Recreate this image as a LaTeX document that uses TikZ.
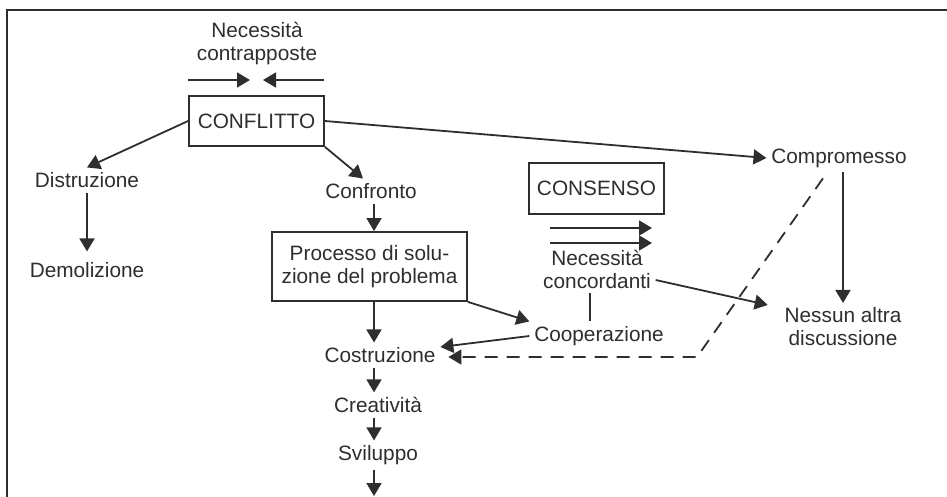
\documentclass[tikz,border=0pt]{standalone}
\usepackage{fontspec}
\setmainfont{Liberation Sans}
\usetikzlibrary{arrows.meta}
\definecolor{ink}{HTML}{2E2E2E}

\begin{document}
\begin{tikzpicture}[x=0.5pt,y=-0.5pt,color=ink,line width=0.9pt,
  >={Triangle[length=6.5pt,width=7.5pt]},
  every node/.style={font=\fontsize{10.4}{11.5}\selectfont,inner sep=2pt,align=center},
  box/.style={draw,minimum width=67.5pt,minimum height=25pt,inner sep=0pt}]
\useasboundingbox (0,0) rectangle (947,497);
\draw[line width=1pt] (7,497) -- (7,10) -- (947,10);

\node (need) at (257,44) {Necessità\\contrapposte};
\coordinate (pl) at (188,80);
\coordinate (pr) at (324,80);
\draw[->] (pl) -- ++(62,0);
\draw[->] (pr) -- ++(-61,0);

\node[box] (confl) at (256.5,121) {CONFLITTO};
\node (distr) at (87,180) {Distruzione};
\node (demol) at (87,270) {Demolizione};
\node (confr) at (371,191) {Confronto};
\node[box,minimum width=97.5pt,minimum height=34.5pt] (proc) at (369.5,266.5)
  {Processo di solu-\\zione del problema};

\coordinate (col) at (374,0);
\node (costr) at (380,355) {Costruzione};
\node (creat) at (378,405) {Creatività};
\node (svil) at (378,455) {Sviluppo};
\coordinate (out) at (374,496);

\node (compr) at (839,158) {Compromesso};
\node[box,minimum height=25.5pt] (cons) at (596.5,188.5) {CONSENSO};
\coordinate (c1) at (550,228);
\coordinate (c2) at (550,243);
\node (conc) at (597,269) {Necessità\\concordanti};
\node (coop) at (599,336) {Cooperazione};
\node (nessun) at (843,327) {Nessun altra\\discussione};
\coordinate (bend) at (697,357);

\draw[->] (confl.west) -- (distr.north);
\draw[->] (distr.south) -- ([yshift=3pt]demol.north);
\draw[->] (confl.south east) -- ([xshift=-4pt]confr.north);
\draw[->] (confr.south -| col) -- (proc.north -| col);
\draw[->] (proc.south -| col) -- (costr.north -| col);
\draw[->] (costr.south -| col) -- (creat.north -| col);
\draw[->] (creat.south -| col) -- (svil.north -| col);
\draw[->] (svil.south -| col) -- (out);

\draw[->] (confl.east) -- (compr.west);
\draw[->] (compr.south -| nessun) -- (nessun.north);
\draw[->] (c1) -- ++(102,0);
\draw[->] (c2) -- ++(102,0);
\draw[->] (proc.south east) -- (coop.north west);
\draw[->] (coop.west) -- ([yshift=4pt]costr.east);
\draw ([xshift=-3.5pt]conc.south) -- ([xshift=-3.5pt]conc.south |- coop.north);
\draw[->] ([yshift=-5.5pt]conc.east) -- ([xshift=-6pt,yshift=-1pt]nessun.north west);
\draw[->,dash pattern=on 6.5pt off 4.5pt] ([xshift=-8pt,yshift=-3pt]compr.south) -- (bend)
  -- ([xshift=4pt]costr.east |- bend);
\end{tikzpicture}
\end{document}
